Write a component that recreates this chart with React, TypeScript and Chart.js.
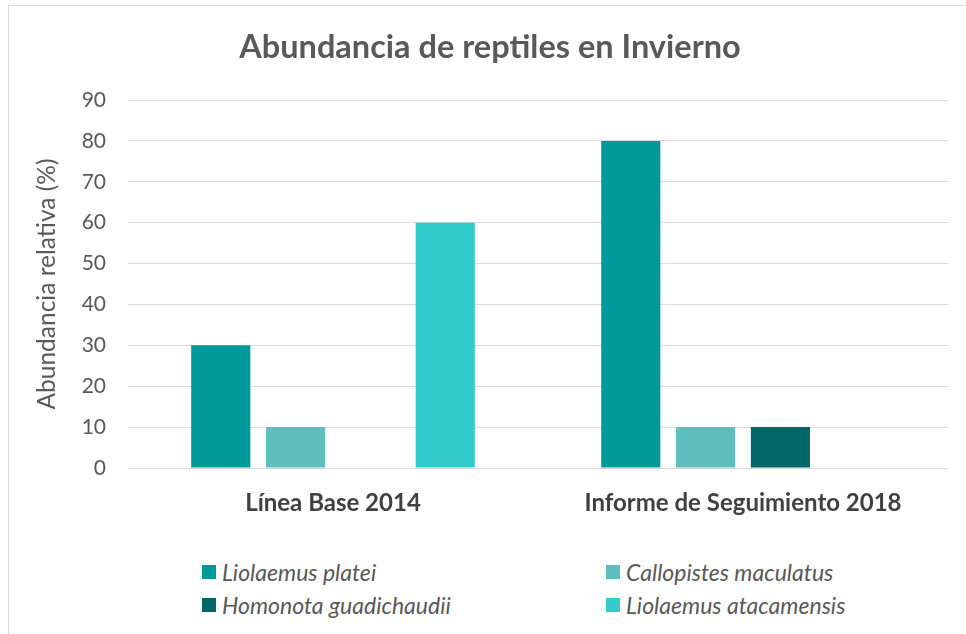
import React, { useEffect, useRef } from "react";
import { Chart, registerables } from "chart.js";

Chart.register(...registerables);

const titleText = "Abundancia de reptiles en Invierno";
const yAxisTitle = "Abundancia relativa (%)";
const categories = ["Línea Base 2014", "Informe de Seguimiento 2018"];
const seriesNames = [
  "Liolaemus platei",
  "Callopistes maculatus",
  "Homonota guadichaudii",
  "Liolaemus atacamensis",
];
const liolaemusPlatei = [30, 80];
const callopistesMaculatus = [10, 10];
const homonotaGuadichaudii = [0, 10];
const liolaemusAtacamensis = [60, 0];
const seriesColors = ["#009999", "#5FBFBF", "#006666", "#33CCCC"];
const yMin = 0;
const yMax = 90;
const yStep = 10;

const FONT = "Lato, 'Open Sans', sans-serif";
const TEXT = "#595959";

export default function App() {
  const canvasRef = useRef<HTMLCanvasElement | null>(null);

  useEffect(() => {
    if (!canvasRef.current) return;
    const values = [liolaemusPlatei, callopistesMaculatus, homonotaGuadichaudii, liolaemusAtacamensis];
    const chart = new Chart(canvasRef.current, {
      type: "bar",
      data: {
        labels: categories,
        datasets: seriesNames.map((name, i) => ({
          label: name,
          data: values[i],
          backgroundColor: seriesColors[i],
          borderWidth: 0,
          categoryPercentage: 0.73,
          barPercentage: 0.79,
        })),
      },
      options: {
        animation: false,
        responsive: false,
        maintainAspectRatio: false,
        layout: { padding: { left: 32, right: 18, top: 0, bottom: 0 } },
        plugins: {
          legend: { display: false },
          tooltip: { enabled: false },
          title: {
            display: true,
            text: titleText,
            color: TEXT,
            font: { family: FONT, size: 32.5, weight: "bold" },
            padding: { top: 28.5, bottom: 32.5 },
          },
        },
        scales: {
          x: {
            grid: { display: false, drawTicks: false },
            border: { display: false },
            ticks: {
              color: "#404040",
              padding: 21,
              font: { family: FONT, size: 24, weight: "bold" },
            },
            afterFit: (s: any) => {
              s.height = 72;
            },
          },
          y: {
            min: yMin,
            max: yMax,
            ticks: {
              stepSize: yStep,
              color: TEXT,
              padding: 22,
              font: { family: FONT, size: 21 },
            },
            grid: { color: "#D9D9D9", lineWidth: 1, drawTicks: false },
            border: { display: false },
            title: {
              display: true,
              text: yAxisTitle,
              color: TEXT,
              font: { family: FONT, size: 24.5 },
              padding: { top: 0, bottom: 0 },
            },
            afterFit: (s: any) => {
              s.width = 96;
            },
          },
        },
      },
    });
    return () => chart.destroy();
  }, []);

  const legendPos = [
    { left: 202, top: 565 },
    { left: 606, top: 565 },
    { left: 202, top: 598 },
    { left: 606, top: 598 },
  ];

  return (
    <div
      style={{
        position: "fixed",
        left: 0,
        top: 0,
        width: 966,
        height: 634,
        overflow: "hidden",
        background: "#ffffff",
      }}
    >
      <div
        style={{
          position: "absolute",
          left: 8,
          top: 5,
          width: 1000,
          height: 1000,
          border: "1px solid #D9D9D9",
          boxSizing: "border-box",
        }}
      />
      <canvas
        ref={canvasRef}
        width={966}
        height={540}
        style={{ position: "absolute", left: 0, top: 0, width: 966, height: 540 }}
      />
      {seriesNames.map((name, i) => (
        <div
          key={name}
          style={{
            position: "absolute",
            left: legendPos[i].left,
            top: legendPos[i].top,
            height: 14,
            display: "flex",
            alignItems: "center",
            whiteSpace: "nowrap",
          }}
        >
          <span
            style={{
              display: "inline-block",
              width: 14,
              height: 14,
              background: seriesColors[i],
              marginRight: 6,
            }}
          />
          <span
            style={{
              fontFamily: FONT,
              fontStyle: "italic",
              fontSize: 23,
              color: TEXT,
              lineHeight: "14px",
            }}
          >
            {name}
          </span>
        </div>
      ))}
    </div>
  );
}
